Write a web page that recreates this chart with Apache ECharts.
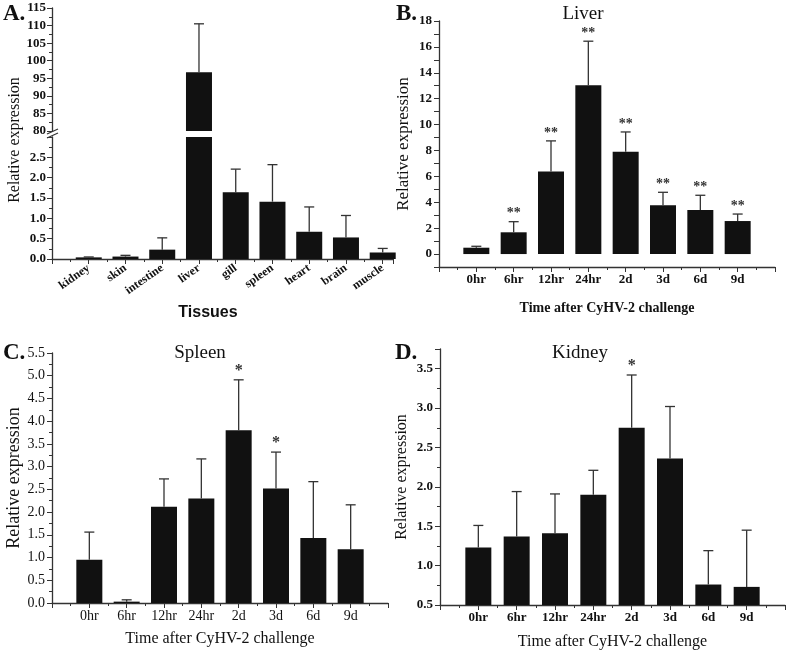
<!DOCTYPE html>
<html>
<head>
<meta charset="utf-8">
<title>Relative expression</title>
<script src="https://cdn.jsdelivr.net/npm/echarts@6/dist/echarts.min.js"></script>
<style>
  html, body { margin: 0; padding: 0; background: #fff; }
  #main { width: 788px; height: 654px; }
</style>
</head>
<body>
<div id="main"></div>
<script type="text/javascript">
	// A. tissues
	var tissues = ['kidney', 'skin', 'intestine', 'liver', 'gill', 'spleen', 'heart', 'brain', 'muscle'];
	var tissueMean = [0.04, 0.06, 0.23, 96.7, 1.64, 1.41, 0.67, 0.53, 0.16];
	var tissueSd = [0.01, 0.03, 0.29, 13.8, 0.57, 0.91, 0.61, 0.54, 0.10];

	// B, C, D. time after challenge
	var timePoints = ['0hr', '6hr', '12hr', '24hr', '2d', '3d', '6d', '9d'];
	var liverMean = [0.49, 1.68, 6.37, 13.04, 7.91, 3.76, 3.40, 2.55];
	var liverSd = [0.11, 0.82, 2.37, 3.40, 1.52, 1.01, 1.14, 0.54];
	var liverSig = ['', '**', '**', '**', '**', '**', '**', '**'];

	var spleenMean = [0.95, 0.03, 2.12, 2.30, 3.80, 2.52, 1.43, 1.18];
	var spleenSd = [0.61, 0.04, 0.61, 0.87, 1.11, 0.80, 1.24, 0.98];
	var spleenSig = ['', '', '', '', '*', '*', '', ''];

	var kidneyMean = [1.23, 1.37, 1.41, 1.90, 2.75, 2.36, 0.76, 0.73];
	var kidneySd = [0.28, 0.57, 0.50, 0.31, 0.67, 0.66, 0.43, 0.72];
	var kidneySig = ['', '', '', '', '*', '', '', ''];

	var SERIF = '"Liberation Serif", "Times New Roman", serif';
	var SANS = '"Liberation Sans", Arial, sans-serif';
	var INK = '#111';
	var LINE = '#333';

	function pairs(mean, sd) {
		var out = [];
		for (var i = 0; i < mean.length; i++) {
			out.push([i, mean[i], sd ? sd[i] : 0]);
		}
		return out;
	}

	function idxLabel(names) {
		return function (v) {
			return (v >= 0 && v < names.length && v % 1 === 0) ? names[v] : '';
		};
	}

	// error bar (upper only) + significance stars
	function errRender(sig, lo, hi, starSize) {
		return function (params, api) {
			var i = api.value(0), m = api.value(1), sd = api.value(2);
			if (m > hi || m + sd < lo) return;
			var base = api.coord([i, Math.max(m, lo)]);
			var cap = api.coord([i, m + sd]);
			var st = { stroke: LINE, lineWidth: 1.3 };
			var kids = [
				{ type: 'line', shape: { x1: base[0], y1: base[1], x2: cap[0], y2: cap[1] }, style: st },
				{ type: 'line', shape: { x1: cap[0] - 5, y1: cap[1], x2: cap[0] + 5, y2: cap[1] }, style: st }
			];
			if (sig && sig[i]) {
				kids.push({
					type: 'text', x: cap[0], y: cap[1] - 1,
					style: { text: sig[i], align: 'center', verticalAlign: 'bottom',
						font: 'bold ' + starSize + 'px ' + SERIF, fill: LINE }
				});
			}
			return { type: 'group', children: kids };
		};
	}

	function xAx(grid, max, names, lbl, name, nameFont, nameGap) {
		return {
			type: 'value', gridIndex: grid, min: -1, max: max, interval: 1,
			axisLine: { show: true, onZero: false, lineStyle: { color: LINE, width: 1.3 } },
			axisTick: { show: true, length: 5, lineStyle: { color: LINE } },
			minorTick: { show: true, splitNumber: 2, length: 3, lineStyle: { color: LINE } },
			splitLine: { show: false },
			axisLabel: Object.assign({ formatter: idxLabel(names), color: INK, fontFamily: SERIF }, lbl),
			name: name || '', nameLocation: 'middle', nameGap: nameGap || 30,
			nameTextStyle: Object.assign({ color: INK, fontFamily: SERIF }, nameFont || {})
		};
	}

	function yAx(grid, min, max, interval, minor, fmt, lbl, name, nameFont, nameGap) {
		return {
			type: 'value', gridIndex: grid, min: min, max: max, interval: interval,
			axisLine: { show: true, onZero: false, lineStyle: { color: LINE, width: 1.3 } },
			axisTick: { show: true, length: 5, lineStyle: { color: LINE } },
			minorTick: { show: minor, splitNumber: 2, length: 3, lineStyle: { color: LINE } },
			splitLine: { show: false },
			axisLabel: Object.assign({ formatter: fmt, color: INK, fontFamily: SERIF, margin: 7 }, lbl),
			name: name || '', nameLocation: 'middle', nameGap: nameGap || 30,
			nameTextStyle: Object.assign({ color: INK, fontFamily: SERIF }, nameFont || {})
		};
	}

	function bars(xi, yi, data) {
		return { type: 'bar', xAxisIndex: xi, yAxisIndex: yi, data: data, barWidth: 26,
			clip: true, itemStyle: { color: INK }, silent: true, z: 2 };
	}

	function errs(xi, yi, data, sig, lo, hi, starSize) {
		return { type: 'custom', xAxisIndex: xi, yAxisIndex: yi, data: data, clip: true,
			renderItem: errRender(sig, lo, hi, starSize), encode: { x: 0, y: 1 }, silent: true, z: 3 };
	}

	function panelTitle(text, left, top, size, weight, align) {
		return { text: text, left: left, top: top, padding: 0, textAlign: align || 'left',
			textStyle: { fontFamily: SERIF, fontSize: size, fontWeight: weight, color: INK } };
	}

	var tData = pairs(tissueMean, tissueSd);
	var lData = pairs(liverMean, liverSd);
	var sData = pairs(spleenMean, spleenSd);
	var kData = pairs(kidneyMean, kidneySd);

	var myChart = echarts.init(document.getElementById('main'), null, { renderer: 'canvas' });
	myChart.setOption({
		backgroundColor: '#fff',
		animation: false,
		title: [
			panelTitle('A.', 3, 3, 23, 'bold'),
			panelTitle('B.', 396, 3, 23, 'bold'),
			panelTitle('C.', 3, 342, 23, 'bold'),
			panelTitle('D.', 395, 342, 23, 'bold'),
			panelTitle('Liver', 583, 5, 19, 'normal', 'center'),
			panelTitle('Spleen', 200, 344, 19, 'normal', 'center'),
			panelTitle('Kidney', 580, 344, 19, 'normal', 'center')
		],
		grid: [
			{ left: 52, top: 8, width: 341, height: 123, outerBoundsMode: 'none' },
			{ left: 52, top: 137, width: 341, height: 122, outerBoundsMode: 'none' },
			{ left: 439, top: 21, width: 336, height: 246, outerBoundsMode: 'none' },
			{ left: 52, top: 353, width: 336, height: 250, outerBoundsMode: 'none' },
			{ left: 440, top: 349, width: 345, height: 256, outerBoundsMode: 'none' }
		],
		xAxis: [
			Object.assign(xAx(0, 8.28, tissues, {}), { show: false }),
			xAx(1, 8.28, tissues, { rotate: 35, fontSize: 12, fontWeight: 'bold', margin: 8 }),
			xAx(2, 8, timePoints, { fontSize: 13, fontWeight: 'bold', margin: 6 },
				'Time after CyHV-2 challenge', { fontSize: 14, fontWeight: 'bold' }, 34),
			xAx(3, 8, timePoints, { fontSize: 14, margin: 6 },
				'Time after CyHV-2 challenge', { fontSize: 16 }, 28),
			xAx(4, 8, timePoints, { fontSize: 13, fontWeight: 'bold', margin: 6 },
				'Time after CyHV-2 challenge', { fontSize: 16 }, 29)
		],
		yAxis: [
			yAx(0, 80, 115, 5, true, function (v) { return String(v); }, { fontSize: 13, fontWeight: 'bold', margin: 6 }),
			yAx(1, 0, 3, 0.5, true, function (v) { return v < 3 ? v.toFixed(1) : ''; }, { fontSize: 13, fontWeight: 'bold', margin: 6 }),
			yAx(2, -1, 18, 1, false, function (v) { return (v >= 0 && v % 2 === 0) ? String(v) : ''; },
				{ fontSize: 13, fontWeight: 'bold' }, 'Relative expression', { fontSize: 17 }, 27),
			yAx(3, 0, 5.5, 0.5, true, function (v) { return v.toFixed(1); },
				{ fontSize: 14 }, 'Relative expression', { fontSize: 18 }, 27),
			yAx(4, 0.5, 3.75, 0.5, true, function (v) { return v <= 3.5 ? v.toFixed(1) : ''; },
				{ fontSize: 13, fontWeight: 'bold' }, 'Relative expression', { fontSize: 16 }, 30)
		],
		graphic: [
			{ type: 'text', x: 15, y: 140, rotation: Math.PI / 2,
				style: { text: 'Relative expression', align: 'center', verticalAlign: 'middle',
					font: '16px ' + SERIF, fill: INK } },
			{ type: 'text', x: 208, y: 313,
				style: { text: 'Tissues', align: 'center', verticalAlign: 'middle',
					font: 'bold 16px ' + SANS, fill: INK } },
			// axis break marks
			{ type: 'line', shape: { x1: 47, y1: 134, x2: 58, y2: 129 }, style: { stroke: LINE, lineWidth: 1.2 } },
			{ type: 'line', shape: { x1: 47, y1: 138, x2: 58, y2: 133 }, style: { stroke: LINE, lineWidth: 1.2 } }
		],
		series: [
			bars(0, 0, tData),
			errs(0, 0, tData, null, 80, 115, 13),
			bars(1, 1, tData),
			errs(1, 1, tData, null, 0, 3, 13),
			bars(2, 2, lData),
			errs(2, 2, lData, liverSig, -1, 18, 14),
			bars(3, 3, sData),
			errs(3, 3, sData, spleenSig, 0, 5.5, 16),
			bars(4, 4, kData),
			errs(4, 4, kData, kidneySig, 0.5, 3.75, 16)
		]
	});
	window.onresize = myChart.resize;
</script>
</body>
</html>
